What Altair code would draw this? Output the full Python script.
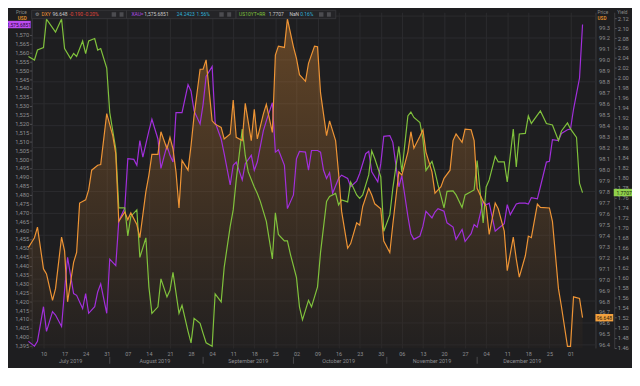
import altair as alt
import pandas as pd

# ---------------- data ----------------
dxy_pts = [
    ("07-05", 97.288), ("07-07", 97.378), ("07-08", 97.474), ("07-10", 97.093), ("07-11", 97.048),
    ("07-13", 96.807), ("07-14", 96.913), ("07-16", 97.384), ("07-17", 97.258), ("07-18", 96.793),
    ("07-20", 97.153), ("07-21", 97.243), ("07-22", 97.694), ("07-24", 97.723), ("07-25", 97.814),
    ("07-26", 97.994), ("07-28", 98.039), ("07-29", 98.045), ("07-31", 98.510),
    ("08-02", 98.309), ("08-03", 98.144), ("08-04", 97.528), ("08-06", 97.613), ("08-07", 97.543),
    ("08-08", 97.604), ("08-10", 97.498), ("08-11", 97.378), ("08-13", 97.798), ("08-14", 97.949),
    ("08-15", 98.138), ("08-17", 98.138), ("08-18", 98.345), ("08-20", 98.189), ("08-21", 98.294),
    ("08-22", 98.189), ("08-23", 97.978), ("08-24", 97.649), ("08-25", 98.084), ("08-27", 97.994),
    ("08-28", 98.219), ("08-29", 98.489), ("08-31", 98.915),
    ("09-01", 98.915), ("09-02", 99.000), ("09-04", 98.444), ("09-05", 98.414), ("09-07", 98.384),
    ("09-08", 98.279), ("09-10", 98.324), ("09-11", 98.633), ("09-12", 98.294), ("09-14", 98.264),
    ("09-15", 98.604), ("09-17", 98.264), ("09-18", 98.550), ("09-19", 98.279), ("09-21", 98.505),
    ("09-22", 98.595), ("09-24", 98.339), ("09-25", 99.045), ("09-26", 99.126), ("09-28", 99.114),
    ("09-29", 99.375),
    ("10-01", 99.120), ("10-02", 99.014), ("10-03", 98.865), ("10-05", 98.805), ("10-06", 98.969),
    ("10-08", 99.126), ("10-09", 99.120), ("10-10", 98.699), ("10-12", 98.309), ("10-13", 98.444),
    ("10-15", 98.264), ("10-16", 97.964), ("10-17", 97.618), ("10-19", 97.282), ("10-20", 97.324),
    ("10-22", 97.514), ("10-23", 97.492), ("10-24", 97.663), ("10-26", 97.829), ("10-27", 97.768),
    ("10-28", 97.687), ("10-30", 97.642), ("10-31", 97.348),
    ("11-02", 97.243), ("11-03", 97.498), ("11-05", 97.978), ("11-06", 97.949), ("11-08", 98.159),
    ("11-09", 98.345), ("11-10", 98.195), ("11-12", 98.303), ("11-13", 98.363), ("11-14", 98.159),
    ("11-16", 97.978), ("11-17", 97.784), ("11-19", 97.843), ("11-20", 97.919), ("11-22", 97.994),
    ("11-23", 98.264), ("11-24", 98.324), ("11-26", 98.249), ("11-27", 98.369), ("11-29", 98.363),
    ("11-30", 98.264),
    ("12-01", 97.829), ("12-03", 97.708), ("12-04", 97.663), ("12-05", 97.408), ("12-07", 97.694),
    ("12-08", 97.642), ("12-10", 97.438), ("12-11", 97.077), ("12-13", 97.384), ("12-14", 97.183),
    ("12-15", 97.018), ("12-17", 97.213), ("12-18", 97.393), ("12-19", 97.378), ("12-21", 97.685),
    ("12-22", 97.654), ("12-25", 97.649), ("12-26", 97.528), ("12-28", 96.913), ("12-29", 96.748),
    ("12-31", 96.387),
    ("01-01", 96.387), ("01-02", 96.838), ("01-04", 96.823), ("01-05", 96.648),
]

gold_pts = [
    ("07-05", 1397.4), ("07-07", 1394.7), ("07-08", 1397.4), ("07-10", 1416.9), ("07-11", 1403.0),
    ("07-13", 1414.1), ("07-14", 1412.2), ("07-16", 1405.8), ("07-17", 1426.1), ("07-18", 1444.7),
    ("07-20", 1424.3), ("07-21", 1423.3), ("07-23", 1415.9), ("07-24", 1424.3), ("07-25", 1413.2),
    ("07-27", 1416.9), ("07-28", 1425.2), ("07-29", 1429.8), ("07-31", 1413.2),
    ("08-01", 1443.7), ("08-03", 1440.0), ("08-04", 1465.0), ("08-06", 1472.4), ("08-07", 1500.2),
    ("08-09", 1499.8), ("08-10", 1496.5), ("08-11", 1510.4), ("08-12", 1501.1), ("08-14", 1515.9),
    ("08-15", 1522.4), ("08-17", 1511.3), ("08-18", 1494.7), ("08-20", 1507.6), ("08-21", 1502.1),
    ("08-22", 1498.3), ("08-23", 1526.1), ("08-25", 1526.1), ("08-27", 1541.9), ("08-28", 1538.2),
    ("08-29", 1527.1), ("08-31", 1519.7),
    ("09-01", 1530.8), ("09-02", 1546.5), ("09-04", 1552.1), ("09-05", 1520.6), ("09-07", 1511.3),
    ("09-08", 1503.0), ("09-10", 1485.4), ("09-11", 1496.5), ("09-12", 1498.3), ("09-14", 1488.2),
    ("09-15", 1497.4), ("09-17", 1502.1), ("09-18", 1493.7), ("09-19", 1498.3), ("09-21", 1515.9),
    ("09-22", 1521.5), ("09-24", 1531.7), ("09-25", 1503.9), ("09-26", 1505.2), ("09-28", 1496.5),
    ("09-29", 1472.1),
    ("10-01", 1479.8), ("10-02", 1500.2), ("10-03", 1504.3), ("10-05", 1503.9), ("10-06", 1493.7),
    ("10-07", 1504.8), ("10-09", 1504.8), ("10-10", 1503.9), ("10-11", 1493.7), ("10-12", 1489.1),
    ("10-13", 1492.4), ("10-14", 1480.8), ("10-16", 1489.1), ("10-17", 1490.9), ("10-19", 1489.1),
    ("10-20", 1484.4), ("10-22", 1487.6), ("10-23", 1491.9), ("10-25", 1503.0), ("10-26", 1504.3),
    ("10-27", 1492.8), ("10-29", 1487.2), ("10-30", 1497.4), ("10-31", 1512.8),
    ("11-02", 1513.2), ("11-03", 1509.4), ("11-05", 1484.4), ("11-06", 1490.6), ("11-08", 1467.8),
    ("11-09", 1458.0), ("11-10", 1454.8), ("11-12", 1456.7), ("11-13", 1462.2), ("11-14", 1470.6),
    ("11-16", 1466.9), ("11-17", 1470.2), ("11-18", 1472.1), ("11-20", 1470.6), ("11-21", 1464.1),
    ("11-23", 1461.7), ("11-24", 1454.8), ("11-26", 1460.4), ("11-27", 1453.6), ("11-29", 1458.0),
    ("11-30", 1463.2),
    ("12-01", 1461.7), ("12-03", 1476.1), ("12-04", 1474.3), ("12-05", 1475.2), ("12-07", 1459.4),
    ("12-08", 1460.9), ("12-10", 1463.6), ("12-11", 1474.3), ("12-12", 1468.7), ("12-14", 1474.7),
    ("12-15", 1475.2), ("12-17", 1475.2), ("12-18", 1474.7), ("12-19", 1478.3), ("12-21", 1477.6),
    ("12-22", 1484.4), ("12-24", 1498.3), ("12-25", 1498.7), ("12-26", 1510.9), ("12-28", 1510.4),
    ("12-29", 1514.4), ("12-31", 1516.5),
    ("01-01", 1516.9), ("01-02", 1528.0), ("01-04", 1545.6), ("01-05", 1575.6851),
]

yield_pts = [
    ("07-05", 2.043), ("07-07", 2.036), ("07-08", 2.056), ("07-10", 2.061), ("07-11", 2.118),
    ("07-14", 2.092), ("07-16", 2.118), ("07-17", 2.059), ("07-19", 2.039), ("07-20", 2.049),
    ("07-21", 2.043), ("07-23", 2.074), ("07-24", 2.049), ("07-25", 2.074), ("07-27", 2.079),
    ("07-28", 2.056), ("07-29", 2.059), ("07-31", 2.020),
    ("08-01", 1.931), ("08-03", 1.858), ("08-04", 1.740), ("08-06", 1.740), ("08-07", 1.684),
    ("08-08", 1.723), ("08-10", 1.736), ("08-11", 1.641), ("08-13", 1.680), ("08-14", 1.582),
    ("08-15", 1.529), ("08-17", 1.542), ("08-18", 1.598), ("08-20", 1.562), ("08-21", 1.575),
    ("08-22", 1.611), ("08-24", 1.529), ("08-25", 1.545), ("08-27", 1.493), ("08-28", 1.470),
    ("08-29", 1.519), ("08-31", 1.509),
    ("09-01", 1.489), ("09-02", 1.470), ("09-04", 1.463), ("09-05", 1.568), ("09-07", 1.552),
    ("09-08", 1.621), ("09-10", 1.703), ("09-11", 1.736), ("09-12", 1.796), ("09-14", 1.898),
    ("09-15", 1.845), ("09-16", 1.812), ("09-18", 1.782), ("09-19", 1.769), ("09-20", 1.753),
    ("09-22", 1.713), ("09-24", 1.638), ("09-25", 1.730), ("09-26", 1.687), ("09-28", 1.674),
    ("09-29", 1.674), ("09-30", 1.647),
    ("10-02", 1.601), ("10-03", 1.542), ("10-04", 1.516), ("10-06", 1.555), ("10-07", 1.542),
    ("10-09", 1.582), ("10-10", 1.651), ("10-12", 1.753), ("10-13", 1.763), ("10-15", 1.769),
    ("10-16", 1.746), ("10-17", 1.756), ("10-19", 1.752), ("10-20", 1.792), ("10-22", 1.766),
    ("10-23", 1.759), ("10-24", 1.766), ("10-26", 1.806), ("10-27", 1.854), ("10-28", 1.839),
    ("10-30", 1.802), ("10-31", 1.693),
    ("11-02", 1.726), ("11-03", 1.779), ("11-05", 1.863), ("11-06", 1.812), ("11-08", 1.924),
    ("11-09", 1.932), ("11-10", 1.921), ("11-12", 1.911), ("11-13", 1.878), ("11-14", 1.815),
    ("11-16", 1.833), ("11-17", 1.812), ("11-18", 1.786), ("11-20", 1.740), ("11-21", 1.773),
    ("11-23", 1.774), ("11-24", 1.766), ("11-26", 1.741), ("11-27", 1.766), ("11-30", 1.776),
    ("12-01", 1.835), ("12-03", 1.710), ("12-04", 1.782), ("12-05", 1.796), ("12-07", 1.843),
    ("12-08", 1.832), ("12-10", 1.832), ("12-11", 1.792), ("12-13", 1.898), ("12-14", 1.822),
    ("12-15", 1.888), ("12-17", 1.889), ("12-18", 1.924), ("12-19", 1.909), ("12-22", 1.934),
    ("12-24", 1.909), ("12-26", 1.906), ("12-28", 1.875), ("12-29", 1.894), ("12-31", 1.910),
    ("01-01", 1.898), ("01-03", 1.881), ("01-04", 1.789), ("01-05", 1.7707),
]

x_tick_dates = [
    "2019-07-10", "2019-07-17", "2019-07-24", "2019-07-31", "2019-08-07", "2019-08-14",
    "2019-08-21", "2019-08-28", "2019-09-04", "2019-09-11", "2019-09-18", "2019-09-25",
    "2019-10-02", "2019-10-09", "2019-10-16", "2019-10-23", "2019-10-30", "2019-11-06",
    "2019-11-13", "2019-11-20", "2019-11-27", "2019-12-04", "2019-12-11", "2019-12-18",
    "2019-12-25", "2020-01-01",
]
month_names = ["July 2019", "August 2019", "September 2019", "October 2019",
               "November 2019", "December 2019"]
month_label_dates = ["2019-07-19", "2019-08-16", "2019-09-16", "2019-10-16",
                     "2019-11-16", "2019-12-16"]
month_sep_dates = ["2019-08-01", "2019-09-01", "2019-10-01", "2019-11-01", "2019-12-01"]

dxy_ticks = [round(96.4 + 0.1 * i, 1) for i in range(30)]      # 96.4 .. 99.3
gold_ticks = [1395 + 5 * i for i in range(36)]                  # 1,395 .. 1,570
yield_ticks = [round(1.46 + 0.02 * i, 2) for i in range(34)]    # 1.46 .. 2.12
grid_levels = [round(96.4 + 0.2 * i, 1) for i in range(16)]     # 96.4 .. 99.4

last_dxy, last_gold, last_yield = 96.648, 1575.6851, 1.7707

# ---------------- styling ----------------
FONT = "Roboto"
BG = "#1e1e20"
GRID = "#2c2c2f"
AXLINE = "#3c3c40"
AX_TXT = "#8e8e92"
LIGHT = "#c8c8c8"
ORANGE = "#ee9435"
PURPLE = "#a22fdc"
GREEN = "#80c23c"
RED = "#e0463c"
CYAN = "#2fb2da"

PLOT_W, PLOT_H = 571, 340
DXY_LO, DXY_HI = 96.372, 99.435


def to_df(pts):
    dates, vals = [], []
    for md, v in pts:
        yr = 2020 if md.startswith("01") else 2019
        dates.append(pd.Timestamp(f"{yr}-{md}"))
        vals.append(v)
    return pd.DataFrame({"date": dates, "v": vals})


def dt(s, hours=0):
    y, m, d = (int(p) for p in s.split("-"))
    return alt.DateTime(year=y, month=m, date=d, hours=hours)


dxy_df, gold_df, yld_df = to_df(dxy_pts), to_df(gold_pts), to_df(yield_pts)

X_SCALE = alt.Scale(domain=[dt("2019-07-06", 2), dt("2020-01-09", 7)], nice=False)
X_AXIS = alt.Axis(values=[dt(s) for s in x_tick_dates], format="%d", title=None,
                  labelColor=AX_TXT, labelFont=FONT, labelFontSize=5.5, labelPadding=4,
                  labelFlush=False, labelOverlap=False, ticks=False, domain=False,
                  grid=True, gridColor=GRID, gridWidth=1)
X = alt.X("date:T", scale=X_SCALE, axis=X_AXIS)

DXY_SCALE = alt.Scale(domain=[DXY_LO, DXY_HI], nice=False, zero=False)
GOLD_SCALE = alt.Scale(domain=[1393.7, 1582.6], nice=False, zero=False)
YLD_SCALE = alt.Scale(domain=[1.4597, 2.1316], nice=False, zero=False)

common_y = dict(title=None, labelColor=AX_TXT, labelFont=FONT, labelFontSize=5.8,
                labelFlush=False, labelOverlap=False, grid=False, domain=True,
                domainColor=AXLINE, tickColor="#5a5a5e")
DXY_AXIS = alt.Axis(orient="right", values=dxy_ticks, format=".1f", ticks=False,
                    labelPadding=3, **common_y)
GOLD_AXIS = alt.Axis(orient="left", values=gold_ticks, format=",", tickSize=2,
                     labelPadding=1, **common_y)
YLD_AXIS = alt.Axis(orient="right", offset=19, values=yield_ticks, format=".2f",
                    tickSize=2, labelPadding=1, **common_y)

one = pd.DataFrame({"k": [0]})


def txt(s, x, y, color, size=5.0, align="left", weight="normal"):
    return alt.Chart(one).mark_text(
        text=s, align=align, baseline="middle", font=FONT, fontSize=size,
        color=color, fontWeight=weight
    ).encode(x=alt.value(x), y=alt.value(y))


def box(x1, x2, y1, y2, fill, stroke=None):
    kw = dict(fill=fill)
    if stroke:
        kw.update(stroke=stroke, strokeWidth=0.8)
    return alt.Chart(one).mark_rect(**kw).encode(
        x=alt.value(x1), x2=alt.value(x2), y=alt.value(y1), y2=alt.value(y2))


def badge(value, scale, xpos, halfw, fill, label, tcolor):
    df = pd.DataFrame({"v": [value]})
    path = f"M-{halfw},-0.5H{halfw}V0.5H-{halfw}Z"
    sym = alt.Chart(df).mark_point(shape=path, filled=True, size=225, color=fill,
                                   opacity=1, strokeWidth=0).encode(
        x=alt.value(xpos), y=alt.Y("v:Q", scale=scale, axis=None))
    lab = alt.Chart(df).mark_text(text=label, font=FONT, fontSize=5.0, color=tcolor,
                                  align="center", baseline="middle").encode(
        x=alt.value(xpos), y=alt.Y("v:Q", scale=scale, axis=None))
    return [sym, lab]


# ---------------- layers ----------------
grid = alt.Chart(pd.DataFrame({"lvl": grid_levels})).mark_rule(
    color=GRID, strokeWidth=1).encode(
    y=alt.Y("lvl:Q", scale=DXY_SCALE, axis=None), x=alt.value(0), x2=alt.value(PLOT_W))

AREA_FILL = alt.Gradient(
    gradient="linear",
    stops=[alt.GradientStop(color="#ee9435", offset=0),
           alt.GradientStop(color="#2a2420", offset=1)],
    x1=1, x2=1, y1=0, y2=1)

area = alt.Chart(dxy_df).mark_area(color=AREA_FILL, fillOpacity=0.33).encode(
    x=X, y=alt.Y("v:Q", scale=DXY_SCALE, axis=None), y2=alt.Y2(datum=DXY_LO))

gold_line = alt.Chart(gold_df).mark_line(color=PURPLE, strokeWidth=1.2).encode(
    x=X, y=alt.Y("v:Q", scale=GOLD_SCALE, axis=GOLD_AXIS))
yld_line = alt.Chart(yld_df).mark_line(color=GREEN, strokeWidth=1.2).encode(
    x=X, y=alt.Y("v:Q", scale=YLD_SCALE, axis=YLD_AXIS))
dxy_line = alt.Chart(dxy_df).mark_line(color=ORANGE, strokeWidth=1.2).encode(
    x=X, y=alt.Y("v:Q", scale=DXY_SCALE, axis=DXY_AXIS))

months = alt.Chart(pd.DataFrame({"date": pd.to_datetime(month_label_dates),
                                 "name": month_names})).mark_text(
    font=FONT, fontSize=5.5, color=AX_TXT, baseline="middle").encode(
    x=X, y=alt.value(PLOT_H + 13.5), text="name:N")
seps = alt.Chart(pd.DataFrame({"date": pd.to_datetime(month_sep_dates)})).mark_rule(
    color="#4a4a4e", strokeWidth=1).encode(
    x=X, y=alt.value(PLOT_H + 9), y2=alt.value(PLOT_H + 16))

header = [
    box(0, 96, -2, 6.5, "#242427", "#3a3a3e"),
    box(96, 207, -2, 6.5, "#242427", "#3a3a3e"),
    box(207, 308, -2, 6.5, "#242427", "#3a3a3e"),
    txt("⚙", 3, 2.2, "#9a9a9a", 5.5),
    txt("DXY", 10, 2.2, ORANGE),
    txt("96.648", 21, 2.2, LIGHT),
    txt("-0.190", 38, 2.2, RED),
    txt("-0.20%", 53, 2.2, RED),
    box(81, 85.5, 0, 4.5, "#4c4c50"), box(89, 93, 0, 4.5, "#4c4c50"),
    txt("XAU=", 101, 2.2, "#b04be6"),
    txt("1,575.6851", 114, 2.2, LIGHT),
    txt("24.2423", 147, 2.2, CYAN),
    txt("1.56%", 167, 2.2, CYAN),
    box(190, 194.5, 0, 4.5, "#4c4c50"), box(198, 202, 0, 4.5, "#4c4c50"),
    txt("US10YT=RR", 210, 2.2, GREEN),
    txt("1.7707", 240, 2.2, LIGHT),
    txt("NaN", 261, 2.2, LIGHT),
    txt("0.16%", 272, 2.2, CYAN),
    box(291, 295.5, 0, 4.5, "#4c4c50"), box(299, 303, 0, 4.5, "#4c4c50"),
    txt("Price", -5, 1.2, "#8a8a8a", 4.8, align="right"),
    txt("USD", -5, 6.8, "#d88a2c", 4.8, align="right", weight="bold"),
    txt("Price", 573, 1.2, "#8a8a8a", 4.8),
    txt("USD", 573, 6.8, "#d88a2c", 4.8, weight="bold"),
    txt("Yield", 593, 1.2, "#8a8a8a", 4.8),
]

badges = (badge(last_gold, GOLD_SCALE, -13, 1.6, "#bb4cf0", "1,575.6851", "#2a0838")
          + badge(last_yield, YLD_SCALE, 600, 1.4, "#8fd14c", "1.7707", "#15240a")
          + badge(last_dxy, DXY_SCALE, 580, 1.2, "#f2a03e", "96.648", "#2a1805"))

chart = alt.layer(
    grid, area, gold_line, yld_line, dxy_line, months, seps, *header, *badges
).resolve_scale(y="independent").properties(
    width=PLOT_W, height=PLOT_H, background=BG,
    padding={"left": 24, "top": 2, "right": 37, "bottom": 18},
    autosize=alt.AutoSizeParams(type="none"),
).configure_view(stroke=None)

chart.save("out.html", embed_options={"renderer": "svg", "actions": False})
